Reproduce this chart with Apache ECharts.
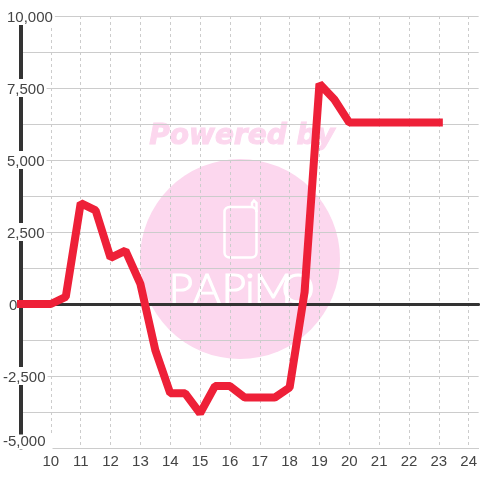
<!DOCTYPE html>
<html>
<head>
<meta charset="utf-8">
<style>
html, body { margin: 0; padding: 0; background: #fff; }
#chart { width: 480px; height: 480px; }
</style>
<script src="https://cdn.jsdelivr.net/npm/echarts@6/dist/echarts.min.js"></script>
</head>
<body>
<div id="chart"></div>
<script>
// half hour readings, 9:00 to 23:00
const hours = [9, 9.5, 10, 10.5, 11, 11.5, 12, 12.5, 13, 13.5, 14, 14.5, 15, 15.5, 16, 16.5, 17, 17.5, 18, 18.5, 19, 19.5, 20, 20.5, 21, 21.5, 22, 22.5, 23]
const values = [0, 0, 0, 250, 3500, 3250, 1600, 1850, 700, -1600, -3100, -3100, -3800, -2850, -2850, -3250, -3250, -3250, -2900, 400, 7650, 7100, 6300, 6300, 6300, 6300, 6300, 6300, 6300]
const yLabels = { 10000: 'a', 7500: 'b', 5000: 'b', 2500: 'b', 0: 'c', '-2500': 'd', '-5000': 'e' }

const chart = echarts.init(document.getElementById('chart'), null, { renderer: 'canvas' })

const labelBase = { fontSize: 15, fontFamily: 'Liberation Sans', color: '#444', backgroundColor: '#fff', lineHeight: 13 }
const wm = '#fcd7ee'
const logoLetters = [['P', 181], ['A', 207], ['P', 234], ['i', 250], ['M', 273], ['O', 298]]

chart.setOption({
  animation: false,
  backgroundColor: '#fff',
  grid: { left: 20, right: 0, top: 16, bottom: 32 },
  graphic: [
    { type: 'circle', z: -1, silent: true, shape: { cx: 240, cy: 259, r: 100 }, style: { fill: wm } },
    { type: 'text', z: -1, silent: true, x: 242, y: 137, style: { text: 'Powered by', fill: wm, stroke: wm, lineWidth: 1, fontFamily: 'DejaVu Sans', fontWeight: 'bold', fontStyle: 'italic', fontSize: 28, align: 'center', verticalAlign: 'middle' } },
    { type: 'rect', z: -1, silent: true, shape: { x: 224.5, y: 207, width: 32, height: 50.5, r: 5 }, style: { fill: 'none', stroke: '#fff', lineWidth: 2.5 } },
    { type: 'polyline', z: -1, silent: true, shape: { points: [[252, 207], [252, 203], [254, 200.5], [256.5, 203], [256.5, 212]] }, style: { fill: 'none', stroke: '#fff', lineWidth: 2.5 } },
    ...logoLetters.map(([ch, x]) => ({
      type: 'text', z: -1, silent: true, x, y: 289,
      style: { text: ch, fill: '#fff', stroke: '#fff', lineWidth: 1.2, fontFamily: 'Lato', fontWeight: 300, fontSize: 42, align: 'center', verticalAlign: 'middle' }
    }))
  ],
  xAxis: [
    {
      type: 'value', min: 9, max: 24.3333, interval: 1,
      axisLine: { onZero: false, show: true, lineStyle: { color: '#ccc', width: 1 } },
      axisTick: { show: false },
      axisLabel: { showMinLabel: false, showMaxLabel: false, fontSize: 15, fontFamily: 'Liberation Sans', color: '#444', margin: 6 },
      splitLine: { show: true, showMaxLine: false, lineStyle: { color: '#ccc', type: [3, 3], width: 1 } }
    },
    {
      // dark line at zero, no labels
      type: 'value', min: 9, max: 24.3333, interval: 1,
      axisLine: { onZero: true, show: true, lineStyle: { color: '#333', width: 3 } },
      axisTick: { show: false }, axisLabel: { show: false }, splitLine: { show: false }
    }
  ],
  yAxis: {
    type: 'value', min: -5000, max: 10000, interval: 1250,
    axisLine: { show: true, onZero: false, lineStyle: { color: '#333', width: 4 } },
    axisTick: { show: false },
    splitLine: { show: true, lineStyle: { color: '#ccc', width: 1 } },
    axisLabel: {
      align: 'left', margin: 18, showMinLabel: true, showMaxLabel: true,
      verticalAlignMinLabel: 'bottom',
      formatter: function (v) {
        const key = yLabels[v]
        if (!key) return ''
        return '{' + key + '|' + v.toLocaleString('en-US') + '}'
      },
      rich: {
        a: { ...labelBase, padding: [3, 2, 0, 4] },
        b: { ...labelBase, padding: [3, 2, 0, 4] },
        c: { ...labelBase, backgroundColor: 'transparent', padding: [3, 0, 0, 6] },
        d: { ...labelBase, padding: [3, 2, 0, 0] },
        e: { ...labelBase, lineHeight: 12, padding: [0, 7, 0, 0] }
      }
    }
  },
  series: [{
    type: 'line',
    clip: false,
    data: hours.map((h, i) => [h, values[i]]),
    symbol: 'none',
    z: 5,
    lineStyle: { color: '#ee2038', width: 8, cap: 'square', join: 'bevel' }
  }]
})
</script>
</body>
</html>
